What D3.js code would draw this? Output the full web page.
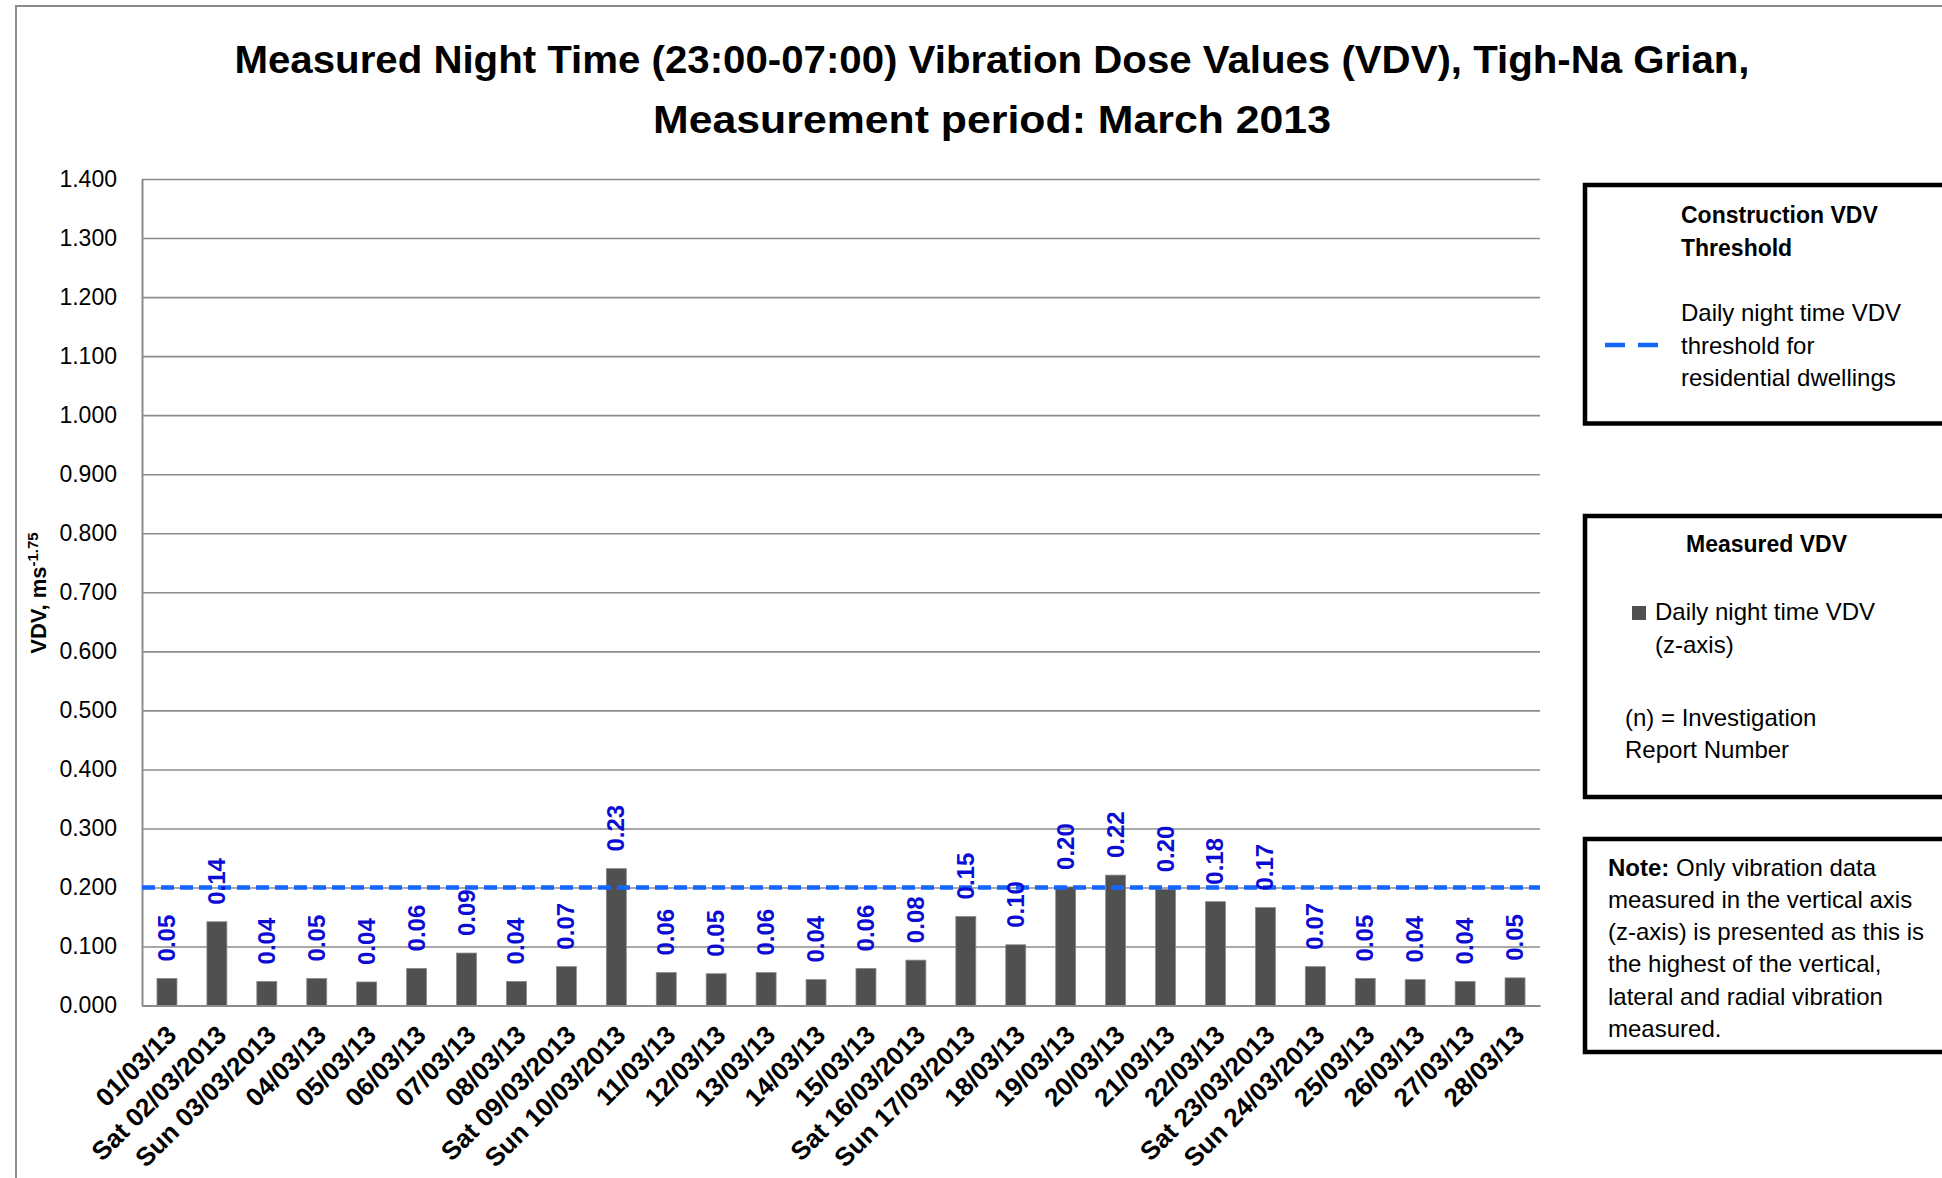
<!DOCTYPE html>
<html>
<head>
<meta charset="utf-8">
<script src="https://cdn.jsdelivr.net/npm/d3@7"></script>
<style>
  body { margin: 0; background: #fff; }
  text { font-family: "Liberation Sans", Arial, sans-serif; }
  .axis .domain { stroke: #8c8c8c; stroke-width: 2; }
  .axis--y .tick line { stroke: #8c8c8c; stroke-width: 1.6; }
  .axis text { fill: #000; }
</style>
</head>
<body>
<svg id="chart" width="1942" height="1178"></svg>
<script>
// night time VDV per day, March 2013
var days = ["01/03/13", "Sat 02/03/2013", "Sun 03/03/2013", "04/03/13", "05/03/13", "06/03/13",
            "07/03/13", "08/03/13", "Sat 09/03/2013", "Sun 10/03/2013", "11/03/13", "12/03/13",
            "13/03/13", "14/03/13", "15/03/13", "Sat 16/03/2013", "Sun 17/03/2013", "18/03/13",
            "19/03/13", "20/03/13", "21/03/13", "22/03/13", "Sat 23/03/2013", "Sun 24/03/2013",
            "25/03/13", "26/03/13", "27/03/13", "28/03/13"]
var vdv = [0.046, 0.142, 0.041, 0.046, 0.040, 0.063, 0.089, 0.041, 0.066, 0.232, 0.056, 0.054,
           0.056, 0.044, 0.063, 0.077, 0.151, 0.103, 0.201, 0.221, 0.197, 0.176, 0.166, 0.066,
           0.046, 0.044, 0.041, 0.047]
var threshold = 0.2
var yTicks = [0, 0.1, 0.2, 0.3, 0.4, 0.5, 0.6, 0.7, 0.8, 0.9, 1.0, 1.1, 1.2, 1.3, 1.4]

var titleLines = ["Measured Night Time (23:00-07:00) Vibration Dose Values (VDV), Tigh-Na Grian,",
                  "Measurement period: March 2013"]
var thresholdTitle = ["Construction VDV", "Threshold"]
var thresholdText = ["Daily night time VDV", "threshold for", "residential dwellings"]
var measuredText = ["Daily night time VDV", "(z-axis)"]
var reportText = ["(n) = Investigation", "Report Number"]
var noteText = [" Only vibration data", "measured in the vertical axis", "(z-axis) is presented as this is",
                "the highest of the vertical,", "lateral and radial vibration", "measured."]

let margin = {top: 179, left: 142, right: 402, bottom: 172.4}
let W = 1942, H = 1178,
    width = W - margin.left - margin.right,
    height = H - margin.top - margin.bottom

let svg = d3.select("#chart")

// outer chart border
svg.append("rect")
  .attr("x", 16).attr("y", 6)
  .attr("width", 2000).attr("height", 1300)
  .attr("fill", "#fff")
  .attr("stroke", "#8c8c8c")
  .attr("stroke-width", 2)

// title
svg.selectAll(".title")
  .data(titleLines)
  .enter().append("text")
  .attr("class", "title")
  .attr("x", 992)
  .attr("y", (d, i) => 73 + i * 60)
  .attr("text-anchor", "middle")
  .attr("font-size", 38)
  .attr("font-weight", "bold")
  .attr("textLength", (d, i) => i == 0 ? 1515 : 678)
  .attr("lengthAdjust", "spacingAndGlyphs")
  .text(d => d)

let g = svg.append("g")
  .attr("transform", "translate(" + margin.left + "," + margin.top + ")")

var x = d3.scaleBand()
  .domain(days)
  .range([0, width])
  .paddingInner(0.6)
  .paddingOuter(0.3)

var y = d3.scaleLinear()
  .domain([0, 1.4])
  .range([height, 0])

// y axis + gridlines
g.append("g")
  .attr("class", "axis axis--y")
  .call(d3.axisLeft(y).tickValues(yTicks).tickFormat(d3.format(".3f"))
        .tickSizeInner(-width).tickSizeOuter(0).tickPadding(25))
  .call(a => a.selectAll("text").attr("font-size", 23))

// bars
g.selectAll(".bar")
  .data(vdv)
  .enter().append("rect")
  .attr("class", "bar")
  .attr("x", (d, i) => x(days[i]))
  .attr("width", x.bandwidth())
  .attr("y", d => y(d))
  .attr("height", d => height - y(d))
  .attr("fill", "#505050")
  .attr("stroke", "#8a8a8a")
  .attr("stroke-width", 0.8)

// x axis
g.append("g")
  .attr("class", "axis axis--x")
  .attr("transform", "translate(0," + height + ")")
  .call(d3.axisBottom(x).tickSize(0).tickSizeOuter(0))
  .call(a => a.selectAll("text")
    .attr("y", null).attr("dy", null)
    .attr("font-size", 26)
    .attr("font-weight", "bold")
    .attr("text-anchor", "end")
    .attr("transform", "translate(11,31) rotate(-45)"))

// threshold line
g.append("line")
  .attr("x1", 0).attr("x2", width)
  .attr("y1", y(threshold)).attr("y2", y(threshold))
  .attr("stroke", "#1566ff")
  .attr("stroke-width", 4.5)
  .attr("stroke-dasharray", "13,6")

// data labels
g.selectAll(".lbl")
  .data(vdv)
  .enter().append("text")
  .attr("class", "lbl")
  .attr("transform", (d, i) => "translate(" + (x(days[i]) + x.bandwidth() / 2 + 8) + "," + (y(d) - 17) + ") rotate(-90)")
  .attr("font-size", 24)
  .attr("font-weight", "bold")
  .attr("fill", "#0c0cd4")
  .text(d => d3.format(".2f")(d))

// y axis title
let yt = svg.append("text")
  .attr("transform", "translate(46,593) rotate(-90)")
  .attr("text-anchor", "middle")
  .attr("font-size", 22)
  .attr("font-weight", "bold")
yt.append("tspan").text("VDV, ms")
yt.append("tspan").attr("baseline-shift", "super").attr("font-size", 15).text("-1.75")

// legend boxes
function box(yTop, h) {
  svg.append("rect")
    .attr("x", 1585).attr("y", yTop)
    .attr("width", 420).attr("height", h)
    .attr("fill", "#fff")
    .attr("stroke", "#000")
    .attr("stroke-width", 4.5)
}
function lines(arr, x0, y0, step, bold) {
  svg.append("g").selectAll("text")
    .data(arr)
    .enter().append("text")
    .attr("x", x0)
    .attr("y", (d, i) => y0 + i * step)
    .attr("font-size", bold ? 23 : 24)
    .attr("font-weight", bold ? "bold" : "normal")
    .text(d => d)
}

box(185, 238.5)
lines(thresholdTitle, 1681, 223, 33, true)
lines(thresholdText, 1681, 321, 32.5, false)
svg.append("line")
  .attr("x1", 1605).attr("x2", 1658)
  .attr("y1", 345).attr("y2", 345)
  .attr("stroke", "#1566ff")
  .attr("stroke-width", 4.5)
  .attr("stroke-dasharray", "20,13")

box(516, 281)
lines(["Measured VDV"], 1686, 552, 0, true)
svg.append("rect")
  .attr("x", 1632).attr("y", 606)
  .attr("width", 14).attr("height", 14)
  .attr("fill", "#505050")
lines(measuredText, 1655, 620, 33, false)
lines(reportText, 1625, 726, 32, false)

box(839, 213)
lines(noteText.slice(1), 1608, 908, 32.2, false)
let n0 = svg.append("text")
  .attr("x", 1608).attr("y", 876)
  .attr("font-size", 24)
n0.append("tspan").attr("font-weight", "bold").text("Note:")
n0.append("tspan").text(noteText[0])
</script>
</body>
</html>
